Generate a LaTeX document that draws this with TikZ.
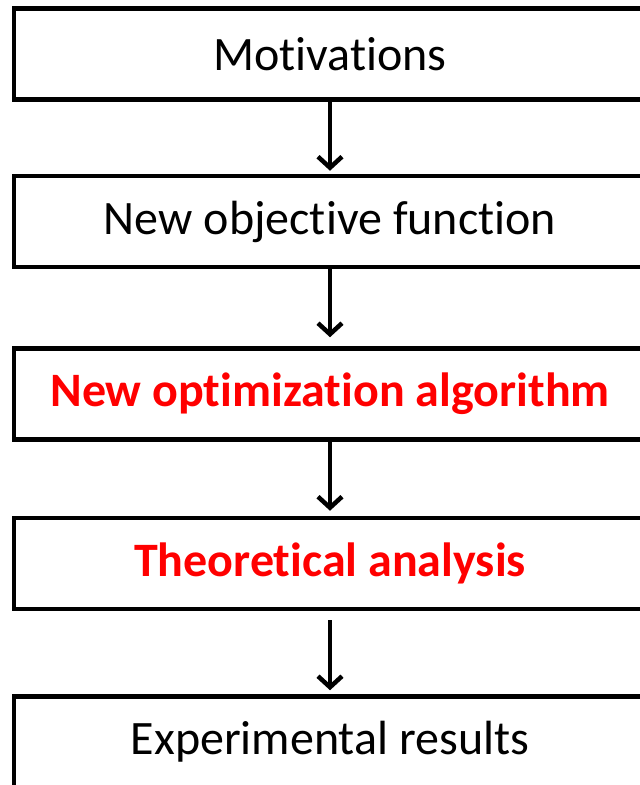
\documentclass[tikz,border=0pt]{standalone}
\usepackage{fontspec}
\setmainfont{Carlito}[Ligatures=NoCommon]
\usepackage{tikz}
\usetikzlibrary{arrows.meta}

\begin{document}
\begin{tikzpicture}[x=1pt, y=1pt, >={Straight Barb[length=11pt, width=24pt]},
  stagebox/.style={draw, line width=4.5pt, minimum width=632pt, minimum height=91pt,
    inner sep=0pt, font=\fontsize{48}{54}\selectfont},
  hot/.style={text=red, font=\fontsize{48}{54}\selectfont\bfseries},
  every path/.style={line width=4.5pt}]
  % page frame
  \useasboundingbox (0,0) rectangle (640,785);

  % the five stages
  \node[stagebox] (motiv) at (330,731) {Motivations};
  \node[stagebox] (objfun) at (330,563.5) {New objective function};
  \node[stagebox, hot] (optalg) at (330,391) {New optimization algorithm};
  \node[stagebox, hot] (theory) at (330,221.5) {Theoretical analysis};
  \node[stagebox] (exper) at (330,43) {Experimental results};

  % arrows between stages
  \draw[->, shorten >=3pt] (motiv) -- (objfun);
  \draw[->, shorten >=9pt] (objfun) -- (optalg);
  \draw[->, shorten >=5pt] (optalg) -- (theory);
  \draw[->, shorten <=9pt, shorten >=4pt] (theory) -- (exper);
\end{tikzpicture}
\end{document}
